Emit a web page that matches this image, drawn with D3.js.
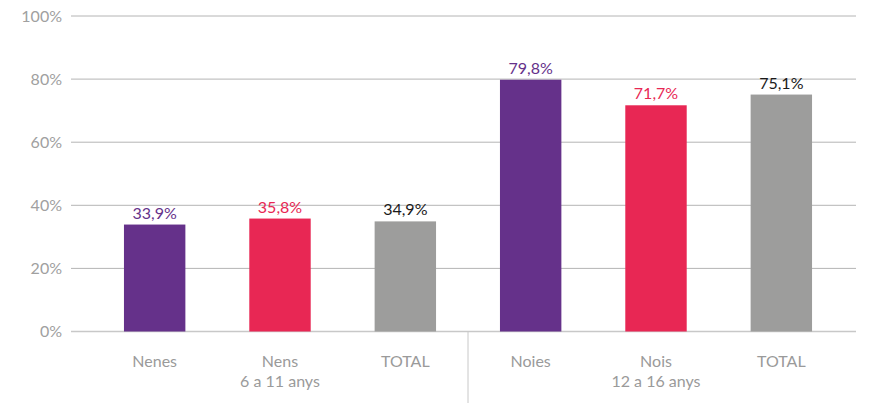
<!DOCTYPE html>
<html>
<head>
<meta charset="utf-8">
<script src="https://cdn.jsdelivr.net/npm/d3@7"></script>
<style>
  body { margin: 0; background: #fff; }
  svg { display: block; font-family: Lato, "Open Sans", sans-serif; }
</style>
</head>
<body>
<svg id="chart" width="879" height="403"></svg>
<script>
// chart data
const categories = ['Nenes', 'Nens', 'TOTAL', 'Noies', 'Nois', 'TOTAL '];
const subLabels = ['', '6 a 11 anys', '', '', '12 a 16 anys', ''];
const values = [33.9, 35.8, 34.9, 79.8, 71.7, 75.1];
const yTicks = [0, 20, 40, 60, 80, 100];
const barColors = ['#65318a', '#e82754', '#9d9d9c', '#65318a', '#e82754', '#9d9d9c'];
const labelColors = ['#65318a', '#e82754', '#1a1a1a', '#65318a', '#e82754', '#1a1a1a'];

const width = 879, height = 403;
const gridLeft = 71, gridRight = 856;

const svg = d3.select('#chart');

const x = d3.scaleBand()
    .domain(categories)
    .range([92, 844])
    .paddingInner(0.51)
    .paddingOuter(0.255);

const y = d3.scaleLinear()
    .domain([0, 100])
    .range([331.5, 16]);

// gridlines
svg.append('g')
    .selectAll('line')
    .data(yTicks)
    .enter().append('line')
    .attr('x1', gridLeft)
    .attr('x2', gridRight)
    .attr('y1', d => y(d))
    .attr('y2', d => y(d))
    .attr('stroke', d => d === 0 ? '#c8c8c8' : '#b4b4b4')
    .attr('stroke-width', d => d === 0 ? 1.5 : 1);

// y tick labels
svg.append('g')
    .selectAll('text')
    .data(yTicks)
    .enter().append('text')
    .attr('x', 62)
    .attr('y', d => y(d) + 5.5)
    .attr('text-anchor', 'end')
    .attr('fill', '#a0a0a0')
    .style('font-size', '16px')
    .text(d => d + '%');

// bars
svg.append('g')
    .selectAll('rect')
    .data(values)
    .enter().append('rect')
    .attr('x', (d, i) => x(categories[i]))
    .attr('width', x.bandwidth())
    .attr('y', d => y(d))
    .attr('height', d => y(0) - y(d))
    .attr('fill', (d, i) => barColors[i]);

// value labels
svg.append('g')
    .selectAll('text')
    .data(values)
    .enter().append('text')
    .attr('x', (d, i) => x(categories[i]) + x.bandwidth() / 2)
    .attr('y', d => y(d) - 6)
    .attr('text-anchor', 'middle')
    .attr('fill', (d, i) => labelColors[i])
    .style('font-size', '16px')
    .text(d => d3.format('.1f')(d).replace('.', ',') + '%');

// category labels
const cat = svg.append('g');
cat.selectAll('text.main')
    .data(categories)
    .enter().append('text')
    .attr('class', 'main')
    .attr('x', d => x(d) + x.bandwidth() / 2)
    .attr('y', 367)
    .attr('text-anchor', 'middle')
    .attr('fill', '#9a9a9a')
    .style('font-size', '16px')
    .text(d => d.trim());

cat.selectAll('text.sub')
    .data(subLabels)
    .enter().append('text')
    .attr('class', 'sub')
    .attr('x', (d, i) => x(categories[i]) + x.bandwidth() / 2)
    .attr('y', 387)
    .attr('text-anchor', 'middle')
    .attr('fill', '#9a9a9a')
    .style('font-size', '16px')
    .text(d => d);

// group separator
const sepX = (x(categories[2]) + x(categories[3]) + x.bandwidth()) / 2;
svg.append('line')
    .attr('x1', sepX).attr('x2', sepX)
    .attr('y1', y(0)).attr('y2', height)
    .attr('stroke', '#c8c8c8')
    .attr('stroke-width', 1);
</script>
</body>
</html>
